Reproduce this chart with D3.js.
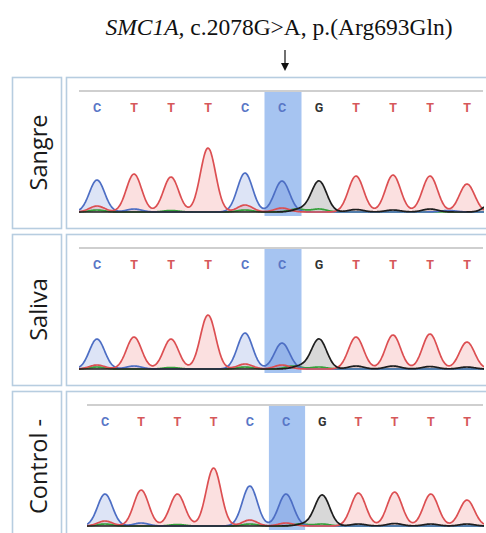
<!DOCTYPE html>
<html><head><meta charset="utf-8">
<script src="https://cdn.jsdelivr.net/npm/d3@7"></script>
<style>body{margin:0;background:#fff}svg{display:block}</style>
</head><body>
<svg id="c" width="486" height="533"></svg>
<script>
// ---------- data ----------
const titleItalic = "SMC1A,";
const titleRest = " c.2078G>A, p.(Arg693Gln)";
const samples = ["Sangre", "Saliva", "Control -"];
const bases = ["C","T","T","T","C","C","G","T","T","T","T"];
const variantIndex = 5;
// main peak heights (signal units) per base
const peaksSangre  = [32, 38, 35, 64, 39, 31, 31, 36, 37, 36, 28];
const peaksSaliva  = [30, 32, 30, 54, 36, 26, 30, 32, 34, 35, 27];
const peaksControl = [32, 36, 32, 58, 40, 32, 31, 33, 34, 32, 26];
// minor signals: [channel, base position, height]
const minorSangre = [["T",0,6],["A",0,2],["C",1,3],["A",2,1.5],["T",4,7],["A",4,2],["T",5,4],["A",5.4,3],["A",6,3],["G",5.5,3],["G",7,2.5],["G",8,2],["G",9,3],["G",10.7,10],["C",9.5,1.5]];
const minorSaliva = [["T",0,4],["A",0,2],["C",1,3],["A",2,1.5],["T",4,5],["A",4,2],["T",5,4],["A",5.3,3],["A",6,2],["G",5.5,3],["G",7,3],["G",8,3],["G",9,2.5],["G",10,2]];
const minorControl = [["T",0,5],["A",0,2],["C",1,3],["A",2,1.5],["T",4,6],["A",4,2],["T",5,3],["A",5.4,2],["A",6,2],["G",5.5,2],["G",7,2],["G",8,2.5],["G",9,2],["G",10,2]];

const peakSets = [peaksSangre, peaksSaliva, peaksControl];
const minorSets = [minorSangre, minorSaliva, minorControl];

// ---------- styles ----------
const lineColor = {A:"#35a03a", C:"#4d6ec4", G:"#1e1e1e", T:"#dc4f52"};
const areaColor = {A:"rgba(60,170,60,0.10)", C:"rgba(85,120,210,0.20)", G:"rgba(60,60,60,0.20)", T:"rgba(235,85,85,0.18)"};
const letterColor = {C:"#5876c6", T:"#d6585a", G:"#333333"};
const channels = ["A","C","T","G"];

const svg = d3.select("#c");

// title
const t = svg.append("text")
  .attr("x", 279).attr("y", 35)
  .attr("text-anchor", "middle")
  .style("font-family", "'Liberation Serif','DejaVu Serif',serif")
  .style("font-size", "23.5px").attr("fill", "#111");
t.append("tspan").style("font-style", "italic").text(titleItalic);
t.append("tspan").text(titleRest);

// arrow
svg.append("line").attr("x1", 285).attr("x2", 285).attr("y1", 50).attr("y2", 64)
  .attr("stroke", "#111").attr("stroke-width", 1.2);
svg.append("path").attr("d", "M281,63 L289,63 L285,71 Z").attr("fill", "#111");

const panelTop0 = 77, panelStep = 157, boxH = 151;
const xRanges = [[97, 467], [97, 467], [105, 467]];
const sigma = 0.205;

samples.forEach((name, i) => {
  const top = panelTop0 + i * panelStep;
  const g = svg.append("g");
  const border = "#b7cde0";
  // label box
  g.append("rect").attr("x", 12.5).attr("y", top + 0.5).attr("width", 49).attr("height", boxH)
    .attr("fill", "none").attr("stroke", border).attr("stroke-width", 1.6);
  g.append("text").attr("transform", `translate(38,${top + boxH / 2}) rotate(-90)`)
    .attr("text-anchor", "middle").attr("dominant-baseline", "central")
    .style("font-family", "'Open Sans','Noto Sans',sans-serif").style("font-size", "23.5px")
    .attr("fill", "#1a1a1a").text(name);
  // chart box
  g.append("rect").attr("x", 66.5).attr("y", top + 0.5).attr("width", 430).attr("height", boxH)
    .attr("fill", "none").attr("stroke", border).attr("stroke-width", 1.6);

  const x = d3.scaleLinear().domain([0, bases.length - 1]).range(xRanges[i]);
  const step = x(1) - x(0);
  const baseline = top + 135;
  const y = d3.scaleLinear().domain([0, 100]).range([baseline, baseline - 100]);
  const gridY = top + 14;
  const xStart = x(0) - 18, xEnd = 484;

  // top gray rule
  g.append("line").attr("x1", xStart).attr("x2", 483).attr("y1", gridY).attr("y2", gridY)
    .attr("stroke", "#cfcfcf").attr("stroke-width", 2);

  // variant highlight
  g.append("rect").attr("x", x(variantIndex) - step / 2 + 1).attr("width", step)
    .attr("y", gridY + 1).attr("height", Math.min(baseline + 4, 533) - gridY - 1)
    .attr("fill", "#a6c4f1");

  // base letters
  g.selectAll("text.base").data(bases).join("text").attr("class", "base")
    .attr("x", (d, k) => x(k)).attr("y", top + 30)
    .attr("text-anchor", "middle").attr("dominant-baseline", "central")
    .style("font-family", "Roboto,'Open Sans',sans-serif").style("font-size", "12.5px")
    .style("font-weight", "bold").attr("fill", d => letterColor[d]).text(d => d);

  // build peak list per channel
  const peaks = { A: [], C: [], G: [], T: [] };
  bases.forEach((b, k) => peaks[b].push([k, peakSets[i][k]]));
  minorSets[i].forEach(([c, p, h]) => peaks[c].push([p, h]));

  const t0 = x.invert(xStart), t1 = x.invert(xEnd);
  const ts = d3.range(t0, t1, 0.02).concat([t1]);
  const clipId = "clip" + i;
  svg.append("clipPath").attr("id", clipId).append("rect")
    .attr("x", xStart).attr("y", top + 2).attr("width", xEnd - xStart).attr("height", boxH - 3);

  const traces = channels.map(c => ({
    c, pts: ts.map(tv => [tv, d3.sum(peaks[c], ([p, h]) => h * Math.exp(-((tv - p) ** 2) / (2 * sigma * sigma)))])
  }));
  const area = d3.area().x(d => x(d[0])).y0(baseline).y1(d => y(d[1])).curve(d3.curveBasis);
  const line = d3.line().x(d => x(d[0])).y(d => y(d[1])).curve(d3.curveBasis);
  const tg = g.append("g").attr("clip-path", `url(#${clipId})`);
  tg.selectAll("path.area").data(traces).join("path").attr("class", "area")
    .attr("d", d => area(d.pts)).attr("fill", d => areaColor[d.c]);
  tg.selectAll("path.line").data(traces).join("path").attr("class", "line")
    .attr("d", d => line(d.pts)).attr("fill", "none")
    .attr("stroke", d => lineColor[d.c]).attr("stroke-width", 1.7);
});
</script>
</body></html>
